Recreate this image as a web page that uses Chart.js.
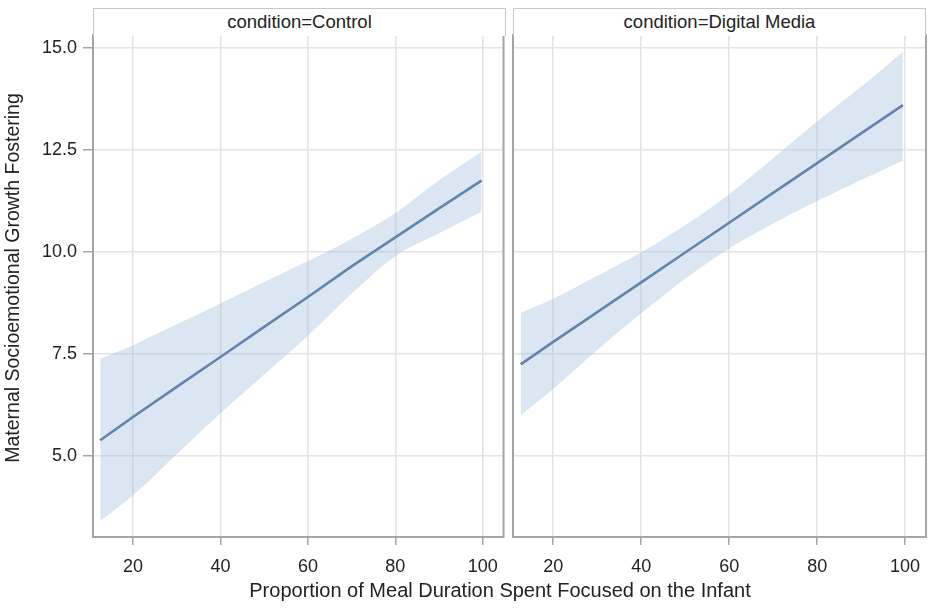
<!DOCTYPE html>
<html>
<head>
<meta charset="utf-8">
<script src="https://cdn.jsdelivr.net/npm/chart.js@4.4.0/dist/chart.umd.min.js"></script>
<style>
html,body{margin:0;padding:0;background:#fff;}
#wrap{position:relative;width:935px;height:610px;overflow:hidden;font-family:"Liberation Sans",Arial,sans-serif;color:#222;}
#wrap canvas{position:absolute;top:0;}
.strip{position:absolute;top:8px;height:28px;box-sizing:border-box;border:1.5px solid #c6c9cc;border-bottom:none;background:#fff;text-align:center;font-size:18.5px;line-height:26px;color:#222;white-space:nowrap;}
#xtitle{position:absolute;left:200px;width:600px;top:580px;line-height:20px;text-align:center;font-size:20px;white-space:nowrap;}
#ytitle{position:absolute;left:-238px;width:500px;top:268px;line-height:20px;text-align:center;font-size:19.5px;white-space:nowrap;transform:rotate(-90deg);}
</style>
</head>
<body>
<div id="wrap">
  <canvas id="cL" width="509" height="610" style="left:0px;width:509px;height:610px;"></canvas>
  <canvas id="cR" width="426" height="610" style="left:509px;width:426px;height:610px;"></canvas>
  <div class="strip" id="s0" style="left:93px;width:413px;"></div>
  <div class="strip" id="s1" style="left:513px;width:413px;"></div>
  <div id="xtitle"></div>
  <div id="ytitle"></div>
</div>
<script>
// ---- data ----
const panelTitles = ['condition=Control', 'condition=Digital Media'];
const xAxisTitle = 'Proportion of Meal Duration Spent Focused on the Infant';
const yAxisTitle = 'Maternal Socioemotional Growth Fostering';
const xTickValues = [20, 40, 60, 80, 100];
const yTickValues = [5, 7.5, 10, 12.5, 15];

const controlX     = [12.5, 20, 30, 40, 50, 60, 70, 80, 90, 99.7];
const controlFit   = [5.39, 5.96, 6.70, 7.43, 8.17, 8.90, 9.65, 10.36, 11.07, 11.75];
const controlUpper = [7.39, 7.72, 8.23, 8.74, 9.27, 9.78, 10.33, 10.96, 11.76, 12.46];
const controlLower = [3.41, 4.04, 5.05, 6.05, 7.00, 7.95, 8.98, 9.90, 10.46, 10.99];

const digitalX     = [12.6, 20, 30, 40, 50, 60, 70, 80, 90, 99.5];
const digitalFit   = [7.25, 7.80, 8.53, 9.26, 9.99, 10.72, 11.45, 12.18, 12.91, 13.60];
const digitalUpper = [8.51, 8.86, 9.42, 10.00, 10.66, 11.42, 12.30, 13.20, 14.05, 14.91];
const digitalLower = [6.00, 6.65, 7.60, 8.50, 9.35, 10.09, 10.70, 11.25, 11.77, 12.24];

// ---- styles ----
const LINE = '#48648e';
const BAND = 'rgba(155,186,221,0.36)';
const GRID = '#e4e4e4';
const FRAME = '#a2a6aa';
const TEXT = '#222';
const FONT = '"Liberation Sans", Arial, sans-serif';

document.getElementById('s0').textContent = panelTitles[0];
document.getElementById('s1').textContent = panelTitles[1];
document.getElementById('xtitle').textContent = xAxisTitle;
document.getElementById('ytitle').textContent = yAxisTitle;

const pts = (xs, ys) => xs.map((x, i) => ({x: x, y: ys[i]}));

const framePlugin = {
  id: 'frame',
  afterDraw(chart) {
    const a = chart.chartArea, c = chart.ctx;
    c.save();
    c.strokeStyle = FRAME;
    c.lineWidth = 2;
    c.strokeRect(a.left, a.top, a.right - a.left, a.bottom - a.top);
    c.restore();
  }
};

function makeChart(id, xs, fit, up, lo, showY, padRight) {
  return new Chart(document.getElementById(id), {
    type: 'line',
    data: {
      datasets: [
        {data: pts(xs, up), borderWidth: 0, pointRadius: 0, fill: false, backgroundColor: BAND, borderColor: 'rgba(0,0,0,0)', cubicInterpolationMode: 'monotone'},
        {data: pts(xs, lo), borderWidth: 0, pointRadius: 0, fill: '-1', backgroundColor: BAND, borderColor: 'rgba(0,0,0,0)', cubicInterpolationMode: 'monotone'},
        {data: pts(xs, fit), borderWidth: 2.6, pointRadius: 0, fill: false, borderColor: LINE}
      ]
    },
    plugins: [framePlugin],
    options: {
      responsive: false,
      animation: false,
      events: [],
      layout: {padding: {top: 35, right: padRight, left: 0, bottom: 0}},
      plugins: {legend: {display: false}, tooltip: {enabled: false}, title: {display: false}},
      scales: {
        x: {
          type: 'linear', min: 10.85, max: 104.75,
          afterBuildTicks: s => { s.ticks = xTickValues.map(v => ({value: v})); },
          afterFit: s => { s.height = 73; },
          ticks: {font: {family: FONT, size: 18}, color: TEXT, padding: 11, maxRotation: 0, autoSkip: false},
          grid: {color: GRID, lineWidth: 1.5, tickLength: 8, tickColor: FRAME, tickWidth: 1.5},
          border: {display: false}
        },
        y: {
          type: 'linear', min: 3.02, max: 15.32,
          afterBuildTicks: s => { s.ticks = yTickValues.map(v => ({value: v})); },
          afterFit: s => { s.width = showY ? 93 : 4; },
          ticks: {display: showY, font: {family: FONT, size: 18}, color: TEXT, padding: 6,
                  callback: v => Number(v).toFixed(1)},
          grid: {color: GRID, lineWidth: 1.5, tickLength: 10, drawTicks: showY, tickColor: FRAME, tickWidth: 1.5},
          border: {display: false}
        }
      }
    }
  });
}

makeChart('cL', controlX, controlFit, controlUpper, controlLower, true, 4);
makeChart('cR', digitalX, digitalFit, digitalUpper, digitalLower, false, 9);
</script>
</body>
</html>
